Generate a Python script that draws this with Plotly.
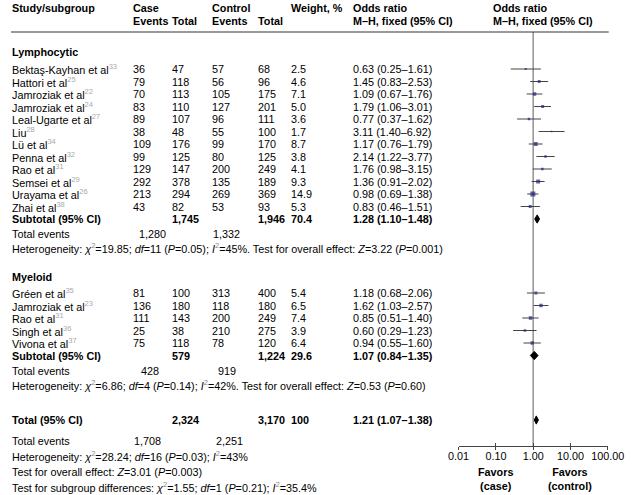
import math
import plotly.graph_objects as go

# ---------------- data ----------------
lymph_names = ["Bektaş-Kayhan et al", "Hattori et al", "Jamroziak et al", "Jamroziak et al",
               "Leal-Ugarte et al", "Liu", "Lü et al", "Penna et al", "Rao et al",
               "Semsei et al", "Urayama et al", "Zhai et al"]
lymph_refs = ["33", "25", "22", "24", "27", "28", "34", "32", "31", "29", "26", "38"]
lymph_case_events = [36, 79, 70, 83, 89, 38, 109, 99, 129, 292, 213, 43]
lymph_case_total = [47, 118, 113, 110, 107, 48, 176, 125, 147, 378, 294, 82]
lymph_ctrl_events = [57, 56, 105, 127, 96, 55, 99, 80, 200, 135, 269, 53]
lymph_ctrl_total = [68, 96, 175, 201, 111, 100, 170, 125, 249, 189, 369, 93]
lymph_weight = [2.5, 4.6, 7.1, 5.0, 3.6, 1.7, 8.7, 3.8, 4.1, 9.3, 14.9, 5.3]
lymph_or = [0.63, 1.45, 1.09, 1.79, 0.77, 3.11, 1.17, 2.14, 1.76, 1.36, 0.98, 0.83]
lymph_lo = [0.25, 0.83, 0.67, 1.06, 0.37, 1.40, 0.76, 1.22, 0.98, 0.91, 0.69, 0.46]
lymph_hi = [1.61, 2.53, 1.76, 3.01, 1.62, 6.92, 1.79, 3.77, 3.15, 2.02, 1.38, 1.51]

myel_names = ["Gréen et al", "Jamroziak et al", "Rao et al", "Singh et al", "Vivona et al"]
myel_refs = ["35", "23", "31", "36", "37"]
myel_case_events = [81, 136, 111, 25, 75]
myel_case_total = [100, 180, 143, 38, 118]
myel_ctrl_events = [313, 118, 200, 210, 78]
myel_ctrl_total = [400, 180, 249, 275, 120]
myel_weight = [5.4, 6.5, 7.4, 3.9, 6.4]
myel_or = [1.18, 1.62, 0.85, 0.60, 0.94]
myel_lo = [0.68, 1.03, 0.51, 0.29, 0.55]
myel_hi = [2.06, 2.57, 1.40, 1.23, 1.60]

# subtotal / total rows: [lymphocytic, myeloid, overall]
sum_case_total = [1745, 579, 2324]
sum_ctrl_total = [1946, 1224, 3170]
sum_weight = ["70.4", "29.6", "100"]
sum_or = [1.28, 1.07, 1.21]
sum_lo = [1.10, 0.84, 1.07]
sum_hi = [1.48, 1.35, 1.38]
sum_case_events = [1280, 428, 1708]
sum_ctrl_events = [1332, 919, 2251]

tick_vals = [0.01, 0.1, 1, 10, 100]
tick_text = ["0.01", "0.10", "1.00", "10.00", "100.00"]

# ---------------- layout helpers ----------------
W, H = 642, 495
FS = 10.8
FONT = "Arial, Liberation Sans, sans-serif"
ROW = 12.5          # px per row
Y0 = 69             # px of first study row (slot 0)


def slot_of(px):
    return (px - Y0) / ROW


fig = go.Figure()


def txt(xpx, slot, text, xanchor="left", bold=False):
    fig.add_annotation(x=xpx / W, xref="paper", y=slot, yref="y", text=text,
                       showarrow=False, xanchor=xanchor, yanchor="middle",
                       borderpad=0,
                       font=dict(size=FS, color="black", family=FONT,
                                 weight="bold" if bold else "normal"))


def sup(r):
    return "<span style='color:#aaaaaa'><sup>%s</sup></span>" % r


def g2():
    return "<span style='color:#888888'><sup>2</sup></span>"


def ortext(o, l, h):
    return "%.2f (%.2f–%.2f)" % (o, l, h)


COLX = dict(study=0, ce=126, ct=167, ke=209, kt=257, w=292, orx=357)

# header
txt(COLX["study"], slot_of(8), "Study/subgroup", bold=True)
txt(COLX["ce"], slot_of(8), "Case", bold=True)
txt(COLX["ke"], slot_of(8), "Control", bold=True)
txt(COLX["w"], slot_of(8), "Weight, %", bold=True)
txt(COLX["orx"], slot_of(8), "Odds ratio", bold=True)
txt(503, slot_of(8), "Odds ratio", bold=True)
txt(COLX["ce"], slot_of(21), "Events", bold=True)
txt(COLX["ct"], slot_of(21), "Total", bold=True)
txt(COLX["ke"], slot_of(21), "Events", bold=True)
txt(COLX["kt"], slot_of(21), "Total", bold=True)
txt(COLX["orx"], slot_of(21), "M–H, fixed (95% CI)", bold=True)
txt(503, slot_of(21), "M–H, fixed (95% CI)", bold=True)

RULE = slot_of(32)
AXIS_PX = 446
fig.add_shape(type="line", xref="paper", yref="y", x0=0, x1=625 / W, y0=RULE, y1=RULE,
              line=dict(color="#333333", width=1))

# slots for groups
lymph_head = slot_of(52)
lymph_slots = list(range(len(lymph_names)))
lymph_sub = len(lymph_names)
myel_head = slot_of(277)
myel_start = slot_of(293)
myel_slots = [myel_start + i for i in range(len(myel_names))]
myel_sub = myel_start + len(myel_names)
total_slot = slot_of(420)

ev_x = [(133, 210), (135, 215), (128, 213)]
ev_slots = [slot_of(234), slot_of(371), slot_of(441)]
het_slots = [slot_of(248), slot_of(385)]
het_texts = [
    "Heterogeneity: <i>χ</i>%s=19.85; <i>df</i>=11 (<i>P</i>=0.05); <i>I</i>%s=45%%. "
    "Test for overall effect: <i>Z</i>=3.22 (<i>P</i>=0.001)" % (g2(), g2()),
    "Heterogeneity: <i>χ</i>%s=6.86; <i>df</i>=4 (<i>P</i>=0.14); <i>I</i>%s=42%%. "
    "Test for overall effect: <i>Z</i>=0.53 (<i>P</i>=0.60)" % (g2(), g2()),
]

groups = [
    ("Lymphocytic", lymph_head, lymph_slots, lymph_sub, lymph_names, lymph_refs,
     lymph_case_events, lymph_case_total, lymph_ctrl_events, lymph_ctrl_total,
     lymph_weight, lymph_or, lymph_lo, lymph_hi),
    ("Myeloid", myel_head, myel_slots, myel_sub, myel_names, myel_refs,
     myel_case_events, myel_case_total, myel_ctrl_events, myel_ctrl_total,
     myel_weight, myel_or, myel_lo, myel_hi),
]

all_x, all_y, all_w = [], [], []
ci_x, ci_y = [], []
dia_slots = []

for gi, (gname, hs, slots, ss, names, refs, ce, ct, ke, kt, w, o, lo, hi) in enumerate(groups):
    txt(0, hs, gname, bold=True)
    for i, s in enumerate(slots):
        txt(COLX["study"], s, names[i] + sup(refs[i]))
        txt(COLX["ce"], s, str(ce[i]))
        txt(COLX["ct"], s, str(ct[i]))
        txt(COLX["ke"], s, str(ke[i]))
        txt(COLX["kt"], s, str(kt[i]))
        txt(COLX["w"], s, "%.1f" % w[i])
        txt(COLX["orx"], s, ortext(o[i], lo[i], hi[i]))
        all_x.append(o[i]); all_y.append(s); all_w.append(w[i])
        ci_x += [lo[i], hi[i], None]
        ci_y += [s, s, None]
    txt(COLX["study"], ss, "Subtotal (95% CI)", bold=True)
    txt(COLX["ct"], ss, format(sum_case_total[gi], ","), bold=True)
    txt(COLX["kt"], ss, format(sum_ctrl_total[gi], ","), bold=True)
    txt(COLX["w"], ss, sum_weight[gi], bold=True)
    txt(COLX["orx"], ss, ortext(sum_or[gi], sum_lo[gi], sum_hi[gi]), bold=True)
    dia_slots.append(ss)
    txt(0, ev_slots[gi], "Total events")
    txt(ev_x[gi][0], ev_slots[gi], format(sum_case_events[gi], ","))
    txt(ev_x[gi][1], ev_slots[gi], format(sum_ctrl_events[gi], ","))
    txt(0, het_slots[gi], het_texts[gi])

# overall total
txt(0, total_slot, "Total (95% CI)", bold=True)
txt(COLX["ct"], total_slot, format(sum_case_total[2], ","), bold=True)
txt(COLX["kt"], total_slot, format(sum_ctrl_total[2], ","), bold=True)
txt(COLX["w"], total_slot, sum_weight[2], bold=True)
txt(COLX["orx"], total_slot, ortext(sum_or[2], sum_lo[2], sum_hi[2]), bold=True)
dia_slots.append(total_slot)
txt(0, ev_slots[2], "Total events")
txt(ev_x[2][0], ev_slots[2], format(sum_case_events[2], ","))
txt(ev_x[2][1], ev_slots[2], format(sum_ctrl_events[2], ","))
txt(0, slot_of(456), "Heterogeneity: <i>χ</i>%s=28.24; <i>df</i>=16 (<i>P</i>=0.03); <i>I</i>%s=43%%" % (g2(), g2()))
txt(0, slot_of(472), "Test for overall effect: <i>Z</i>=3.01 (<i>P</i>=0.003)")
txt(0, slot_of(487), "Test for subgroup differences: <i>χ</i>%s=1.55; <i>df</i>=1 (<i>P</i>=0.21); <i>I</i>%s=35.4%%" % (g2(), g2()))

# ---------------- forest marks ----------------
# reference line at OR = 1
fig.add_shape(type="line", xref="x", yref="y", x0=1, x1=1, y0=RULE, y1=slot_of(AXIS_PX),
              line=dict(color="#999999", width=1.6), layer="below")

fig.add_trace(go.Scatter(x=ci_x, y=ci_y, mode="lines", line=dict(color="#444444", width=1),
                         hoverinfo="skip", showlegend=False))
fig.add_trace(go.Scatter(x=all_x, y=all_y, mode="markers",
                         marker=dict(symbol="square", color="#22227a",
                                     size=[1.3 * math.sqrt(v) for v in all_w], line=dict(width=0)),
                         showlegend=False))
DH = 0.33
for k, s in enumerate(dia_slots):
    fig.add_trace(go.Scatter(x=[sum_lo[k], sum_or[k], sum_hi[k], sum_or[k], sum_lo[k]],
                             y=[s, s - DH, s, s + DH, s], mode="lines", fill="toself",
                             fillcolor="black", line=dict(color="black", width=1),
                             showlegend=False, hoverinfo="skip"))

# dummy trace for the overlay axis (upward ticks)
fig.add_trace(go.Scatter(x=[None], y=[None], xaxis="x2", showlegend=False, hoverinfo="skip"))

# Favors labels
for xv, lab in [(0.1, "Favors<br>(case)"), (10, "Favors<br>(control)")]:
    fig.add_annotation(x=math.log10(xv), xref="x", y=slot_of(479), yref="y",
                       text=lab, showarrow=False, xanchor="center", yanchor="middle",
                       font=dict(size=FS, family=FONT, color="black", weight="bold"))

xdom = [468 / W, 624 / W]
fig.update_layout(
    width=W, height=H, autosize=False,
    margin=dict(l=0, r=0, t=0, b=0),
    paper_bgcolor="white", plot_bgcolor="white",
    font=dict(family=FONT, size=FS, color="black"),
    showlegend=False,
    xaxis=dict(type="log", range=[-2, 2], domain=xdom, anchor="free", position=1 - AXIS_PX / H,
               showline=True, linecolor="#444444", linewidth=1, ticks="outside", ticklen=3,
               tickcolor="#444444", tickvals=tick_vals, ticktext=tick_text, showgrid=False,
               zeroline=False, ticklabelstandoff=-3,
               tickfont=dict(size=FS, family=FONT, color="black")),
    xaxis2=dict(type="log", range=[-2, 2], domain=xdom, anchor="free", position=1 - AXIS_PX / H,
                overlaying="x", side="bottom", showline=False, ticks="inside", ticklen=3,
                tickcolor="#444444", tickvals=tick_vals, showticklabels=False, showgrid=False,
                zeroline=False),
    yaxis=dict(range=[slot_of(H), slot_of(0)], domain=[0, 1], visible=False, showgrid=False,
               zeroline=False),
)

fig.write_html("out.html", config={"displayModeBar": False},
               post_script="document.body.style.margin='0px';")
